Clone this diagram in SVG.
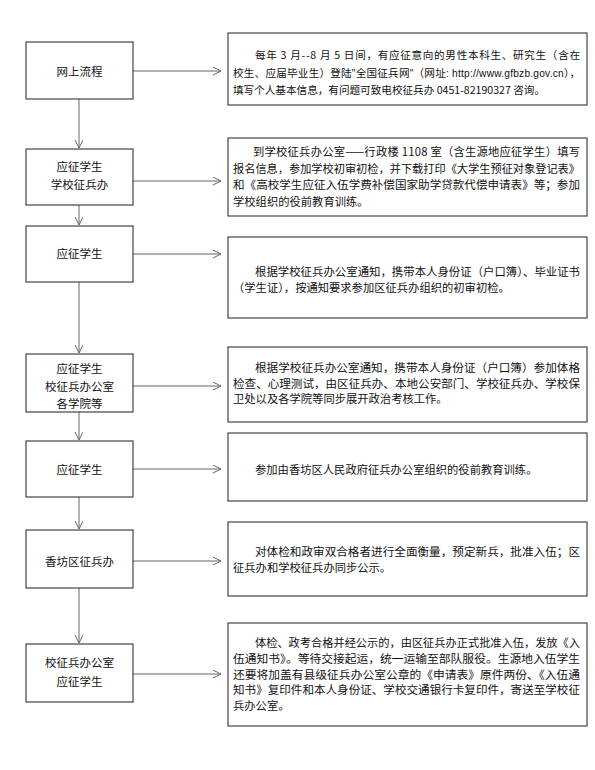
<svg xmlns="http://www.w3.org/2000/svg" width="595" height="770" viewBox="0 0 595 770">
<defs>
<style>
.bx{fill:#fff;stroke:#444;stroke-width:1.2}
.lt{font-family:"Noto Sans CJK SC",sans-serif;font-size:11.5px;fill:#111;text-anchor:middle}
.rt{font-family:"Noto Sans CJK SC",sans-serif;font-size:11.3px;fill:#111}
.rs{font-family:"Noto Sans CJK SC",sans-serif;font-size:10.6px;fill:#111}
.lat{font-family:"Liberation Sans",Arial,sans-serif;font-size:10.2px}
.cn{stroke:#666;stroke-width:1;fill:none}
</style>
<marker id="ah" markerWidth="10" markerHeight="10" refX="8" refY="4" orient="auto" markerUnits="userSpaceOnUse">
<path d="M0,0 L8,4 L0,8" fill="none" stroke="#666" stroke-width="1"/>
</marker>
</defs>
<rect width="595" height="770" fill="#fff"/>

<g id="connectors">
<line class="cn" x1="79" y1="99" x2="79" y2="148" marker-end="url(#ah)"/>
<line class="cn" x1="79" y1="205" x2="79" y2="225" marker-end="url(#ah)"/>
<line class="cn" x1="79" y1="282" x2="79" y2="353" marker-end="url(#ah)"/>
<line class="cn" x1="79" y1="412" x2="79" y2="440" marker-end="url(#ah)"/>
<line class="cn" x1="79" y1="497" x2="79" y2="529" marker-end="url(#ah)"/>
<line class="cn" x1="79" y1="588" x2="79" y2="643" marker-end="url(#ah)"/>
<line class="cn" x1="133" y1="71" x2="221" y2="71" marker-end="url(#ah)"/>
<line class="cn" x1="133" y1="181" x2="221" y2="181" marker-end="url(#ah)"/>
<line class="cn" x1="133" y1="254" x2="221" y2="254" marker-end="url(#ah)"/>
<line class="cn" x1="133" y1="386" x2="221" y2="386" marker-end="url(#ah)"/>
<line class="cn" x1="133" y1="469" x2="221" y2="469" marker-end="url(#ah)"/>
<line class="cn" x1="133" y1="561" x2="221" y2="561" marker-end="url(#ah)"/>
<line class="cn" x1="133" y1="674" x2="221" y2="674" marker-end="url(#ah)"/>
</g>

<g id="n1"><rect class="bx" x="26" y="42" width="107" height="57"/><text class="lt" x="79.5" y="75.5">网上流程</text></g>
<g id="n2"><rect class="bx" x="26" y="149" width="107" height="56"/><text class="lt" x="79.5" y="171">应征学生</text><text class="lt" x="79.5" y="189">学校征兵办</text></g>
<g id="n3"><rect class="bx" x="26" y="226" width="107" height="56"/><text class="lt" x="79.5" y="258">应征学生</text></g>
<g id="n4"><rect class="bx" x="26" y="354" width="107" height="58"/><text class="lt" x="79.5" y="373">应征学生</text><text class="lt" x="79.5" y="391">校征兵办公室</text><text class="lt" x="79.5" y="408">各学院等</text></g>
<g id="n5"><rect class="bx" x="26" y="441" width="107" height="56"/><text class="lt" x="79.5" y="473.5">应征学生</text></g>
<g id="n6"><rect class="bx" x="26" y="530" width="107" height="58"/><text class="lt" x="79.5" y="565.5">香坊区征兵办</text></g>
<g id="n7"><rect class="bx" x="26" y="644" width="107" height="58"/><text class="lt" x="79.5" y="667">校征兵办公室</text><text class="lt" x="79.5" y="685.5">应征学生</text></g>

<g id="d1"><rect class="bx" x="228" y="33" width="359" height="72"/>
<text class="rs" x="255" y="59" textLength="325" lengthAdjust="spacing">每年 3 月--8 月 5 日间，有应征意向的男性本科生、研究生（含在</text>
<text class="rs" x="233" y="77" textLength="347" lengthAdjust="spacing">校生、应届毕业生）登陆<tspan class="lat">"</tspan>全国征兵网<tspan class="lat">"</tspan>（网址<tspan class="lat">: http://www.gfbzb.gov.cn</tspan>），</text>
<text class="rs" x="233" y="94">填写个人基本信息，有问题可致电校征兵办 0451-82190327 咨询。</text></g>

<g id="d2"><rect class="bx" x="228" y="138" width="359" height="78"/>
<text class="rt" x="253" y="156" textLength="327" lengthAdjust="spacing">到学校征兵办公室——行政楼 1108 室（含生源地应征学生）填写</text>
<text class="rt" x="233" y="172.5" textLength="347" lengthAdjust="spacingAndGlyphs">报名信息，参加学校初审初检，并下载打印《大学生预征对象登记表》</text>
<text class="rt" x="233" y="189" textLength="347" lengthAdjust="spacingAndGlyphs">和《高校学生应征入伍学费补偿国家助学贷款代偿申请表》等；参加</text>
<text class="rt" x="233" y="205.5">学校组织的役前教育训练。</text></g>

<g id="d3"><rect class="bx" x="228" y="237" width="359" height="81"/>
<text class="rt" x="255" y="276" textLength="325" lengthAdjust="spacingAndGlyphs">根据学校征兵办公室通知，携带本人身份证（户口簿）、毕业证书</text>
<text class="rt" x="233" y="292">（学生证），按通知要求参加区征兵办组织的初审初检。</text></g>

<g id="d4"><rect class="bx" x="228" y="347" width="359" height="75"/>
<text class="rt" x="255" y="372" textLength="325" lengthAdjust="spacingAndGlyphs">根据学校征兵办公室通知，携带本人身份证（户口簿）参加体格</text>
<text class="rt" x="233" y="387.5" textLength="347" lengthAdjust="spacingAndGlyphs">检查、心理测试，由区征兵办、本地公安部门、学校征兵办、学校保</text>
<text class="rt" x="233" y="403">卫处以及各学院等同步展开政治考核工作。</text></g>

<g id="d5"><rect class="bx" x="228" y="433" width="359" height="68"/>
<text class="rt" x="255" y="474">参加由香坊区人民政府征兵办公室组织的役前教育训练。</text></g>

<g id="d6"><rect class="bx" x="228" y="522" width="359" height="74"/>
<text class="rt" x="255" y="556" textLength="325" lengthAdjust="spacingAndGlyphs">对体检和政审双合格者进行全面衡量，预定新兵，批准入伍；区</text>
<text class="rt" x="233" y="572">征兵办和学校征兵办同步公示。</text></g>

<g id="d7"><rect class="bx" x="228" y="623" width="359" height="103"/>
<text class="rt" x="255" y="647" textLength="325" lengthAdjust="spacingAndGlyphs">体检、政考合格并经公示的，由区征兵办正式批准入伍，发放《入</text>
<text class="rt" x="233" y="663" textLength="347" lengthAdjust="spacingAndGlyphs">伍通知书》。等待交接起运，统一运输至部队服役。生源地入伍学生</text>
<text class="rt" x="233" y="678.5" textLength="347" lengthAdjust="spacingAndGlyphs">还要将加盖有县级征兵办公室公章的《申请表》原件两份、《入伍通</text>
<text class="rt" x="233" y="694" textLength="347" lengthAdjust="spacingAndGlyphs">知书》复印件和本人身份证、学校交通银行卡复印件，寄送至学校征</text>
<text class="rt" x="233" y="709.5">兵办公室。</text></g>
</svg>
